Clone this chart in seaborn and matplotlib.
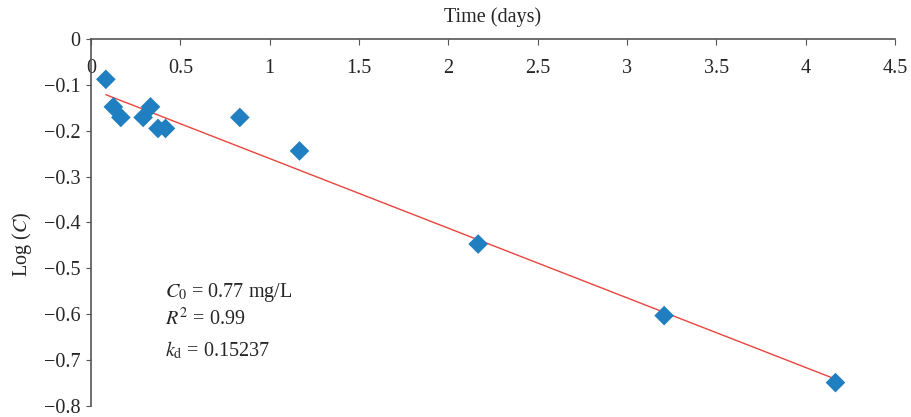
import matplotlib
matplotlib.use("Agg")
import matplotlib.pyplot as plt
import seaborn as sns
import numpy as np
import pandas as pd

time_days = [0.083, 0.125, 0.167, 0.292, 0.333, 0.375, 0.417, 0.833, 1.167, 2.167, 3.208, 4.167]
log_c = [-0.088, -0.148, -0.171, -0.171, -0.148, -0.195, -0.195, -0.171, -0.244, -0.447, -0.603, -0.749]
x_ticks = [0, 0.5, 1, 1.5, 2, 2.5, 3, 3.5, 4, 4.5]
x_tick_labels = ["0", "0.5", "1", "1.5", "2", "2.5", "3", "3.5", "4", "4.5"]
y_ticks = [0, -0.1, -0.2, -0.3, -0.4, -0.5, -0.6, -0.7, -0.8]
y_tick_labels = ["0", "\u22120.1", "\u22120.2", "\u22120.3", "\u22120.4", "\u22120.5", "\u22120.6", "\u22120.7", "\u22120.8"]
annotations = [r"$C_0$ = 0.77 mg/L", r"$R^2$ = 0.99", r"$k_{\mathrm{d}}$ = 0.15237"]

df = pd.DataFrame({"time": time_days, "logc": log_c})

sns.set_style("ticks")
plt.rcParams["font.family"] = ["Liberation Serif", "DejaVu Serif"]
plt.rcParams["mathtext.fontset"] = "stix"

FS = 14.5

fig = plt.figure(figsize=(9.11, 4.17), dpi=100)
ax = fig.add_axes([0.0999, 0.0264, 0.8825, 0.8801])

sns.regplot(data=df, x="time", y="logc", ax=ax, ci=None, marker="D",
            scatter_kws=dict(s=100, color="#1f7fc1", edgecolor="none", zorder=3, alpha=1),
            line_kws=dict(color="#e8453c", lw=1.0, zorder=2))

ax.set_xlim(0, 4.5)
ax.set_ylim(-0.8, 0)
ax.spines["top"].set_visible(False)
ax.spines["right"].set_visible(False)
ax.spines["bottom"].set_position(("data", 0))
for s in ["left", "bottom"]:
    ax.spines[s].set_color("#555555")
    ax.spines[s].set_linewidth(1.2)
ax.set_xticks(x_ticks)
ax.set_xticklabels(x_tick_labels, fontsize=FS)
ax.set_yticks(y_ticks)
ax.set_yticklabels(y_tick_labels, fontsize=FS)
ax.tick_params(axis="x", direction="out", length=4.5, color="#555555", pad=10)
ax.tick_params(axis="y", direction="out", length=3.5, color="#555555", pad=4)
ax.set_xlabel("")
ax.set_ylabel(r"Log ($C$)", fontsize=FS, labelpad=10)
ax.yaxis.set_label_coords(-0.0705, 0.44)
ax.text(0.5, 1.032, "Time (days)", transform=ax.transAxes, ha="center", va="bottom", fontsize=FS)

ys = [0.31, 0.237, 0.152]
for t, yy in zip(annotations, ys):
    ax.text(0.092, yy, t, transform=ax.transAxes, ha="left", va="center", fontsize=FS)

fig.savefig("out.png", dpi=100)
